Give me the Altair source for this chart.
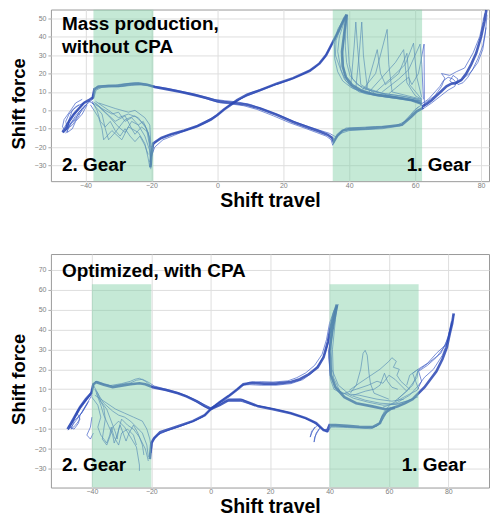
import altair as alt
import pandas as pd

# ---------------- axes ----------------
X_TICKS = [-40, -20, 0, 20, 40, 60, 80]
TOP_Y_TICKS = [-30, -20, -10, 0, 10, 20, 30, 40, 50]
BOT_Y_TICKS = [-30, -20, -10, 0, 10, 20, 30, 40, 50, 60, 70]
TOP_X_DOMAIN = [-50.5, 82.4]
TOP_Y_DOMAIN = [-38.5, 54.8]
BOT_X_DOMAIN = [-53.8, 93.7]
BOT_Y_DOMAIN = [-39.3, 77.8]

# ---------------- green bands ----------------
TOP_BAND_X1 = [-37.6, 35.0]
TOP_BAND_X2 = [-19.4, 62.1]
TOP_BAND_Y1 = [-38.5, -38.5]
TOP_BAND_Y2 = [54.8, 54.8]
BOT_BAND_X1 = [-40.0, 40.0]
BOT_BAND_X2 = [-20.0, 70.0]
BOT_BAND_Y1 = [-39.3, -39.3]
BOT_BAND_Y2 = [62.7, 62.7]

# ---------------- top panel traces (x, y) ----------------
T_RISE = [(-20.3, -31), (-20, -24), (-19.5, -18), (-17, -15), (-14, -13), (-10, -11), (-6, -8.5), (-2, -5), (0, -2.5),
          (2, 0.5), (4, 3), (6, 5.5), (9, 8.5), (13, 11), (18, 14.5), (23, 17.5), (28, 21.5), (31, 25.5), (33, 30),
          (35, 37), (37, 44), (38.5, 50), (39.2, 52)]
T_RISE_B = [(-20.6, -28), (-19, -20), (-16.5, -16), (-13, -13.5), (-9, -10.5), (-5, -7.5), (-1.5, -4), (1, -1), (3, 2),
            (5, 4.5), (8, 7), (12, 10), (17, 13.5), (22, 16.5), (27, 20.5), (30, 24), (32.5, 28.5), (34.5, 35),
            (36.5, 42), (38, 48), (39, 51.5)]
T_RISE_C = [(-20, -20), (-18, -16), (-15, -13.5), (-11, -11.5), (-7, -9.5), (-3, -6.3), (-0.5, -3.5), (1.5, -0.5),
            (3.5, 2.5), (6, 5), (10, 9.5), (15, 12.5), (20, 15.5), (25, 19), (29.5, 23), (32, 27.5), (34, 33.5),
            (36, 40.5), (37.8, 47), (38.8, 50.5)]
T_FALL = [(62.5, 1.5), (60.5, -0.5), (58.8, -3.5), (56, -7.8), (50, -9.2), (45, -9.8), (40, -10.2), (38, -11),
          (36.5, -13.5), (35.3, -17), (34.8, -15), (33.5, -13.3), (31, -11.5), (28, -9.6), (23, -6.3), (18, -2.4),
          (13, 1), (9, 3), (5, 4), (2, 4.5), (0, 5), (-3, 6.6), (-7, 8.4), (-11, 10), (-15, 11.4), (-19, 12.7),
          (-21, 13.8), (-24, 14.5), (-27, 14.1), (-30, 13.3), (-33, 13.2), (-36, 12.8), (-37.3, 11.5), (-37.8, 7),
          (-39, 5.5), (-40.5, 4), (-42, 1), (-43.5, -2), (-45, -6), (-46, -10), (-47, -12)]
T_FALL_B = [(62, 3), (60, 0.5), (58.5, -2.5), (55.5, -8.5), (50, -10), (45, -10.5), (40, -11), (37.5, -12.5), (36, -15),
            (35, -19), (34.5, -16), (33, -14), (30, -12), (27, -10), (22, -6.8), (17, -3), (12, 0.5), (8, 2.5),
            (4, 3.5), (1, 4), (-2, 5.5), (-6, 7.8), (-10, 9.5), (-14, 11), (-18, 12.3), (-20.5, 13.3), (-23, 14),
            (-26, 13.6), (-29, 12.9), (-32, 12.8), (-35, 12.5), (-36.8, 11), (-37.5, 6.5), (-39.5, 3.5), (-41.5, 0),
            (-43, -3), (-44.5, -7), (-45.5, -11), (-46, -12.5)]
T_FALL_C = [(61, 2), (59.5, -1), (57.5, -5.5), (54, -8.5), (48, -8.8), (43, -9.3), (39, -9.6), (37, -12.5),
            (36, -14.5), (34, -12.5), (31, -10.8), (28, -9), (24, -6.6), (19, -2.8), (14, 0.6), (10, 3.2), (6, 4.6),
            (2, 5.3), (-1, 6), (-4, 7.4), (-8, 9.2), (-12, 10.8), (-16, 12.2), (-19.5, 13.3), (-22, 14.6), (-25, 15),
            (-28, 14.5), (-31, 13.8), (-34, 13.6), (-36.5, 13.2), (-37.5, 10), (-38, 6)]
T_END = [(62, 2), (63.5, 3.5), (65, 5.5), (66.5, 8), (68, 10.5), (69.5, 13), (71, 14.5), (72.5, 15), (74, 16.5),
         (75.5, 20), (77, 25), (78.5, 31), (80, 40), (81, 48), (81.6, 54.5)]
T_END_B = [(61.5, 3), (64, 6), (66, 10), (67.5, 13), (68.5, 16), (70, 18), (71.5, 17), (73, 14), (74.5, 15), (76, 18),
           (77.5, 22.5), (79, 28), (80.5, 35), (81.5, 45)]
T_END_C = [(62.5, 1), (65, 4), (67.5, 7.5), (70, 11), (72, 13), (73, 17), (71.5, 19), (70.5, 16), (72, 14), (74.5, 17),
           (77, 21), (79, 26), (80.5, 33), (81.3, 42), (81.8, 52)]
T_END_D = [(63, 4), (66, 8), (68, 13), (69, 17.5), (68, 20), (70.5, 19), (72.5, 21), (75, 23), (77.6, 31.3),
           (79.6, 40.2), (81.1, 52.7)]
T_FAN = [(39.2, 52), (38.5, 42), (37.8, 32), (38, 24), (39, 18), (41, 13.5), (44, 10.5), (48, 8.5), (54, 7), (59, 5.5),
         (62, 3.5)]
T_FAN1 = [(39.2, 52), (38.5, 42), (38, 30), (38.5, 20), (40, 14), (43, 10), (48, 8), (54, 6.5), (60, 5), (62, 3.5)]
T_FAN2 = [(39, 51), (37, 40), (36.5, 32), (37.5, 22), (39, 16), (42, 11.5), (47, 9), (53, 7.5), (58, 6), (62, 4.5)]
T_FAN3 = [(39.5, 52), (39.5, 40), (40, 25), (41, 17), (44, 12), (49, 9.5), (55, 8), (61, 6)]
T_FAN4 = [(38.5, 50), (36, 38), (35.8, 30), (37, 24), (38.5, 17), (41, 12), (45, 9), (52, 7), (62, 5)]
T_FAN5 = [(38.8, 51), (36.5, 44), (35.5, 36), (35.6, 28), (36.5, 21), (38, 16), (40.5, 12.5), (44, 10), (50, 8),
          (56, 6.5), (62, 4)]
T_FAN6 = [(39.3, 52), (39, 45), (38.8, 35), (39.2, 26), (40.2, 19), (42.5, 14), (46, 11), (51, 9), (57, 7.5),
          (62, 5.5)]
T_SPK1 = [(40.5, 14), (41.5, 35), (42, 48), (42.5, 35), (43.5, 14), (48, 9), (56, 7), (62, 5)]
T_SPK2 = [(42, 12), (43, 30), (43.8, 48), (44.3, 30), (45.5, 12), (52, 8), (62, 5)]
T_SPK3 = [(44, 11), (48, 20), (51.5, 44), (52, 25), (53, 10), (62, 6)]
T_SPK4 = [(46, 10), (50, 18), (54, 26), (56.5, 33), (57.5, 15), (60, 8), (62, 6)]
T_SPK5 = [(48, 10), (53, 18), (57, 25), (59.5, 36.5), (60.5, 18), (62, 7)]
T_SPK6 = [(50, 10), (55, 17), (58, 22), (61.5, 36), (62, 25), (62.5, 6)]
T_SPK7 = [(45, 11), (48.5, 33), (49.5, 20), (51, 14), (55, 20), (57.5, 31), (58.3, 14), (62, 6)]
T_SPK8 = [(52, 9), (56, 15), (58, 18), (59, 14), (61, 20), (62.7, 36), (62.8, 2)]
T_GFAN1 = [(-39, 5), (-36, 2), (-33, -3), (-30, -9), (-28, -12), (-26, -6), (-24, -8), (-22, -14), (-20.5, -22),
           (-20, -30)]
T_GFAN2 = [(-38, 4), (-35, -2), (-34, -10), (-33, -16), (-31, -12), (-28, -5), (-25, -3), (-22, -8), (-20.5, -15),
           (-20.3, -28)]
T_GFAN3 = [(-37, 5), (-33, 0), (-30, -4), (-27, -2), (-24, -4), (-21.5, -10), (-20.5, -20), (-20.2, -32)]
T_GFAN4 = [(-38.5, 3), (-36, -4), (-35, -10), (-34.5, -16), (-32, -11), (-29, -16), (-27, -9), (-24, -12), (-22, -18),
           (-21, -26), (-20.5, -31)]
T_GFAN5 = [(-37, 4), (-34, -1), (-31, -6), (-28, -3), (-26, -10), (-25, -13), (-23, -9), (-21, -12), (-20.3, -18)]
T_GFAN6 = [(-36, 4), (-31, 1), (-27, -1), (-25, 0), (-22, -4), (-20.5, -8), (-20, -25)]
T_GFAN7 = [(-38, 5), (-36.5, 0), (-35.5, -6), (-34, -9), (-32.5, -6), (-31, -11), (-29.5, -14), (-28, -10),
           (-26.5, -14), (-25, -17), (-23.5, -14), (-22, -19), (-21, -24)]
T_GFAN8 = [(-37.5, 4.5), (-35, 1), (-32, -2), (-30, -1), (-28, -6), (-26, -4), (-24, -8), (-22.5, -6), (-21, -12),
           (-20.4, -20)]
T_CL1 = [(-40, 5), (-42, 1), (-44, -3), (-46, -8), (-47, -11), (-46.5, -12), (-45, -9), (-43, -4), (-41, 0), (-39, 5)]
T_CL2 = [(-40.5, 4), (-43, 2), (-45, -2), (-46, -6), (-45.5, -10), (-44, -8), (-42, -3), (-41, 1)]
T_CL3 = [(-41, 6), (-43, 4), (-44.5, 0), (-46.5, -5), (-47, -9), (-46, -11), (-44.5, -7), (-43, -5), (-42, -1), (-40, 3)]
T_CL4 = [(-42, 3), (-44, 0), (-45, -5), (-45.5, -12), (-44, -10), (-43, -6), (-41, -2), (-39.5, 3)]

# ---------------- bottom panel traces (x, y) ----------------
B_RISE = [(-20.5, -25), (-20, -17), (-19, -14.5), (-17, -11.5), (-13, -9.5), (-9, -7.5), (-6, -6), (-4, -4.5), (-2, -3),
          (0, 0), (3, 3.5), (6, 6.5), (9, 10), (11, 12.5), (14, 13.2), (18, 12.8), (22, 12.8), (27, 13.6), (30, 15),
          (33, 17.5), (36, 21), (38, 26), (39.5, 34), (40.5, 42), (41.5, 48), (42.5, 52.5)]
B_RISE_B = [(-20, -22), (-19.5, -16), (-18, -13), (-15, -11), (-11, -9), (-7.5, -7), (-5, -5.5), (-3, -4), (-1, -1.5),
            (1, 1.5), (4, 4.5), (7, 7.5), (10, 11.5), (13, 13.5), (17, 13.8), (21, 13.6), (26, 14.2), (29, 15.8),
            (32, 18.2), (35, 22), (37.5, 27.5), (39, 35), (40, 43), (41.5, 49.5), (42.9, 52.6)]
B_RISE_C = [(-19.5, -15), (-17.5, -12.5), (-14, -10.5), (-10, -8.5), (-7, -6.8), (-4.5, -5.2), (-2.5, -3.8),
            (-0.5, -0.8), (2, 2.5), (5, 5.8), (8, 8.8), (10.5, 12), (13, 12.3), (17, 12), (22, 12), (27, 12.8),
            (31, 14.8), (34, 18), (36.5, 22.5), (38.5, 28), (39.5, 33), (40.8, 44), (42, 50)]
B_FALL = [(61, 0.5), (59, -1.5), (58, -3.5), (57, -7), (54.5, -9), (50, -8.8), (46, -8.4), (42, -8), (40, -8),
          (39.2, -10.8), (38, -10.5), (35.5, -7), (32, -4.5), (27, -2), (21, 0), (16, 1.4), (10.5, 4.6), (6, 4.5),
          (3, 2), (0, 0), (-2, 1.5), (-4.5, 3.8), (-8, 6.3), (-11, 8), (-15, 9.6), (-19.5, 11), (-22, 12.5),
          (-24, 13), (-27, 12.5), (-30, 11.8), (-33, 11), (-36, 12.2), (-38.5, 13.5), (-39.5, 12.5), (-40.2, 8),
          (-42, 5), (-44, 1), (-45.5, -3), (-47, -7), (-48.2, -10)]
B_FALL_B = [(60, 1.5), (58.5, -1), (57.5, -4), (56.5, -8), (54, -9.8), (50, -9.5), (46, -9.2), (42, -9), (40.5, -9),
            (39, -11.6), (37.5, -10), (35, -6.5), (31, -4), (26, -1.5), (20, 0.5), (15, 2), (10, 5.2), (6, 5.2),
            (2.5, 2.8), (0, 0.8), (-2.5, 2.6), (-5, 4.6), (-8.5, 7), (-12, 8.8), (-16, 10.4), (-19, 11.6),
            (-21, 13.5), (-23, 15), (-25, 14.5), (-27, 13.2), (-30, 12.5), (-33, 11.6), (-36, 12.8), (-38.3, 14),
            (-39.3, 13), (-40, 9), (-41.5, 6), (-43.5, 2), (-45, -1.5), (-46.5, -5.5), (-48, -9)]
B_FALL_C = [(59.5, -1), (58, -5), (56, -8.5), (52, -9.5), (47, -9), (43, -8.5), (40.5, -8.5), (39.5, -11.6),
            (37, -9.2), (34, -6), (30, -3.5), (25, -1.2), (19, 0.8), (14, 2.2), (10, 4), (5, 4), (1.5, 1), (-1, 0.5),
            (-3.5, 2.5), (-7, 5.5), (-10, 7.5), (-14, 9), (-18, 10.5), (-20, 11.5), (-22, 14), (-24, 15.5),
            (-25.5, 15), (-27, 14), (-30, 12.8), (-34, 11.8), (-37, 12.8), (-39, 14)]
B_DANG1 = [(37, -9), (35.5, -12), (34.8, -16.5), (35, -14), (36.5, -10)]
B_DANG2 = [(36, -8), (34, -11), (33.5, -14), (34, -12), (35, -9)]
B_END = [(61, 0.5), (63, 1.5), (65.5, 3), (68, 5), (70, 8), (72, 11), (74, 15), (76, 19), (78, 25), (79.5, 31),
         (80.5, 38), (81.3, 43), (81.8, 48)]
B_END1 = [(58, 1), (63, 3.5), (67, 7), (70, 12), (72, 16), (75, 20), (78, 27), (80, 35), (81.5, 45)]
B_END2 = [(60, 2), (65, 6), (69.5, 9.5), (71, 14), (70, 19), (73, 22), (76, 26), (79, 32), (81, 42), (82, 48)]
B_END3 = [(62, 4), (66, 9), (69.5, 16), (69.8, 20), (73, 23), (76, 28), (79.6, 33), (81.3, 43)]
B_END4 = [(63, 5), (68, 12), (69.8, 19.3), (74.1, 24.1), (77.5, 28), (80, 36), (81, 44)]
B_FAN = [(42.5, 52), (41, 40), (40, 29), (40.5, 17), (42, 11), (45, 6), (49, 3), (54.4, 1.4), (58.8, 0), (62, 0.6)]
B_FAN1 = [(42.9, 52.6), (41.5, 44), (40.5, 33), (40.8, 20), (43, 12), (47, 7), (52, 4.5), (57, 3), (62, 2.5), (66, 4)]
B_FAN2 = [(42.4, 51.8), (42, 45), (41, 30), (41.3, 16), (43.5, 9), (48, 5.5), (53, 3.5), (58, 2), (63, 2.5),
          (69.8, 6.2)]
B_FAN3 = [(42, 50), (40.5, 38), (39.8, 26), (40.3, 15), (41.5, 10), (44, 8), (50, 7), (56, 5), (61, 4), (65, 5)]
B_SPK1 = [(47, 8), (49, 12), (50.5, 20), (51.3, 28), (52, 29.5), (52.7, 27), (53.3, 18), (53.8, 12.8), (55, 8),
          (60, 5)]
B_SPK2 = [(46.7, 9.5), (50, 13), (54, 17), (57, 20), (60, 24), (61, 25.8), (62.5, 24), (61.5, 21), (63.5, 20),
          (62.7, 17), (64, 14), (67, 10)]
B_SPK3 = [(45, 8), (49, 10), (53, 12), (56, 14), (58, 13), (60, 17), (62, 15), (64, 12), (66, 9)]
B_SPK4 = [(48, 7), (52, 9), (55, 10), (57, 12), (58.5, 18), (59.5, 14), (61, 11), (63, 10)]
B_SPK5 = [(66, 12), (67, 17), (69.8, 20), (68, 18), (69, 14), (70, 10)]
B_GFAN1 = [(-39.5, 12), (-38, 8), (-37, 4), (-35, 0), (-34, -4), (-33, -8), (-32, -12), (-31.5, -15), (-31, -10),
           (-30, -5), (-28, -8), (-26, -10), (-24, -14), (-22, -20), (-21, -26)]
B_GFAN2 = [(-39, 10), (-37.5, 5), (-36, 1), (-35.5, -5), (-36, -10), (-36.5, -15), (-35, -18), (-34, -14), (-33, -9),
           (-31, -6), (-29, -9), (-27, -14), (-25, -19), (-24, -28), (-24, -31)]
B_GFAN3 = [(-38.5, 9), (-36, 3), (-33, -1), (-31, -3), (-29, -4), (-27, -6), (-25, -9), (-23, -12), (-21.5, -18),
           (-21, -24)]
B_GFAN4 = [(-40, 6), (-38, 2), (-37, -4), (-38, -9), (-37, -13), (-35, -17), (-34, -13), (-33.5, -9), (-32.5, -14),
           (-31, -18), (-30, -12), (-28, -10), (-26, -13), (-25, -18)]
B_GFAN5 = [(-39, 7), (-36, 4), (-32, 0), (-29, -2), (-26, -4), (-23, -6), (-21.5, -10), (-20.5, -15), (-20, -20)]
B_GFAN6 = [(-40, -4), (-40.5, -9), (-41.7, -13), (-40.5, -15), (-39.5, -12)]
B_GFAN7 = [(-38.5, 8), (-37, 2), (-36, -3), (-34.5, -8), (-33, -13), (-32.5, -17), (-31.5, -13), (-30.5, -8),
           (-29.5, -12), (-28.5, -16), (-27.5, -12), (-26, -8), (-24.5, -12), (-23, -18), (-22.5, -23)]
B_CL1 = [(-40.2, 8), (-42, 4), (-44, 0), (-45.5, -4), (-47, -8), (-48, -10.5), (-47, -9), (-45.5, -6), (-43, -1),
         (-41, 4)]
B_CL2 = [(-40.5, 7), (-43, 3), (-45, -1), (-46, -5), (-47.5, -9), (-46, -10), (-44.5, -7), (-44, -3), (-42, 2), (-40, 7)]
B_CL3 = [(-41, 6), (-44, 1), (-45, -2), (-44, -5), (-45.5, -8), (-47, -10), (-46, -6), (-43.5, -2), (-41.5, 3)]

TOP_THICK = {"rise": T_RISE, "fall": T_FALL, "end": T_END, "fan": T_FAN}
TOP_THIN = {"rb": T_RISE_B, "rc": T_RISE_C, "fb": T_FALL_B, "fc": T_FALL_C, "eb": T_END_B, "ec": T_END_C,
            "ed": T_END_D, "f1": T_FAN1, "f2": T_FAN2, "f3": T_FAN3, "f4": T_FAN4, "f5": T_FAN5, "f6": T_FAN6,
            "s1": T_SPK1, "s2": T_SPK2, "s3": T_SPK3, "s4": T_SPK4, "s5": T_SPK5, "s6": T_SPK6, "s7": T_SPK7,
            "s8": T_SPK8, "g1": T_GFAN1, "g2": T_GFAN2, "g3": T_GFAN3, "g4": T_GFAN4, "g5": T_GFAN5,
            "g6": T_GFAN6, "g7": T_GFAN7, "g8": T_GFAN8, "c1": T_CL1, "c2": T_CL2, "c3": T_CL3, "c4": T_CL4}
BOT_THICK = {"rise": B_RISE, "fall": B_FALL, "end": B_END, "fan": B_FAN}
BOT_THIN = {"rb": B_RISE_B, "rc": B_RISE_C, "fb": B_FALL_B, "fc": B_FALL_C, "d1": B_DANG1, "d2": B_DANG2,
            "e1": B_END1, "e2": B_END2, "e3": B_END3, "e4": B_END4, "f1": B_FAN1, "f2": B_FAN2, "f3": B_FAN3,
            "s1": B_SPK1, "s2": B_SPK2, "s3": B_SPK3, "s4": B_SPK4, "s5": B_SPK5, "g1": B_GFAN1, "g2": B_GFAN2,
            "g3": B_GFAN3, "g4": B_GFAN4, "g5": B_GFAN5, "g6": B_GFAN6, "g7": B_GFAN7, "c1": B_CL1, "c2": B_CL2,
            "c3": B_CL3}

FONT = "Liberation Sans"
LINE_DARK = "#2a47b3"
LINE_THIN = "#3b5ac4"
BAND = "#7fcfa5"
PLOT_W = 439


def frame(traces):
    rows = []
    for name, pts in traces.items():
        for i, (x, y) in enumerate(pts):
            rows.append({"trace": name, "i": i, "x": x, "y": y})
    return pd.DataFrame(rows)


def label(text, x, y, align="left"):
    return alt.Chart(pd.DataFrame({"t": [text]})).mark_text(
        align=align, baseline="alphabetic", fontSize=19, fontWeight="bold", font=FONT,
        color="black", lineBreak="\n", lineHeight=23
    ).encode(text="t:N", x=alt.value(x), y=alt.value(y))


def panel(thick, thin, bx1, bx2, by1, by2, xdom, ydom, yticks, h, title_y, texts):
    xs = alt.Scale(domain=xdom, nice=False, zero=False)
    ys = alt.Scale(domain=ydom, nice=False, zero=False)
    xax = alt.Axis(values=X_TICKS, title="Shift travel", titleFontSize=19.5, titleFont=FONT,
                   titleFontWeight="bold", titleColor="black", titleY=title_y, titleBaseline="alphabetic",
                   tickSize=0, labelPadding=0)
    yax = alt.Axis(values=yticks, title="Shift force", titleFontSize=18.5, titleFont=FONT,
                   titleFontWeight="bold", titleColor="black", titleX=-26, titleY=h / 2 + 8,
                   titleAngle=270, titleAlign="center", titleBaseline="alphabetic",
                   tickSize=3, labelPadding=2)
    enc = dict(x=alt.X("x:Q", scale=xs, axis=xax), y=alt.Y("y:Q", scale=ys, axis=yax),
               detail="trace:N", order="i:Q")
    thin_l = alt.Chart(frame(thin)).mark_line(color=LINE_THIN, strokeWidth=0.9, opacity=0.75,
                                              clip=True).encode(**enc)
    thick_l = alt.Chart(frame(thick)).mark_line(color=LINE_DARK, strokeWidth=2.6, opacity=0.85,
                                                clip=True).encode(**enc)
    bands = alt.Chart(pd.DataFrame({"x1": bx1, "x2": bx2, "y1": by1, "y2": by2})).mark_rect(
        color=BAND, opacity=0.45, clip=True
    ).encode(x=alt.X("x1:Q", scale=xs, axis=xax), x2="x2:Q",
             y=alt.Y("y1:Q", scale=ys, axis=yax), y2="y2:Q")
    return alt.layer(thin_l, thick_l, bands, *texts).properties(width=PLOT_W, height=h)


top = panel(TOP_THICK, TOP_THIN, TOP_BAND_X1, TOP_BAND_X2, TOP_BAND_Y1, TOP_BAND_Y2,
            TOP_X_DOMAIN, TOP_Y_DOMAIN, TOP_Y_TICKS, 172, 25,
            [label("Mass production,\nwithout CPA", 11, 21), label("2. Gear", 11, 162),
             label("1. Gear", 421, 162, "right")])
bot = panel(BOT_THICK, BOT_THIN, BOT_BAND_X1, BOT_BAND_X2, BOT_BAND_Y1, BOT_BAND_Y2,
            BOT_X_DOMAIN, BOT_Y_DOMAIN, BOT_Y_TICKS, 234, 25,
            [label("Optimized, with CPA", 11, 23), label("2. Gear", 11, 217),
             label("1. Gear", 416, 217, "right")])

chart = alt.vconcat(top, bot, spacing=43).properties(
    padding={"left": 1, "top": 0, "right": 0, "bottom": 0}
).configure_view(stroke="#9a9a9a", strokeWidth=1).configure_axis(
    grid=True, gridColor="#dedede", gridWidth=1, domain=False, labelFont=FONT, labelFontSize=7,
    labelColor="#808080", tickColor="#aaaaaa"
)

chart.save("out.html", embed_options={"renderer": "svg", "actions": False})
